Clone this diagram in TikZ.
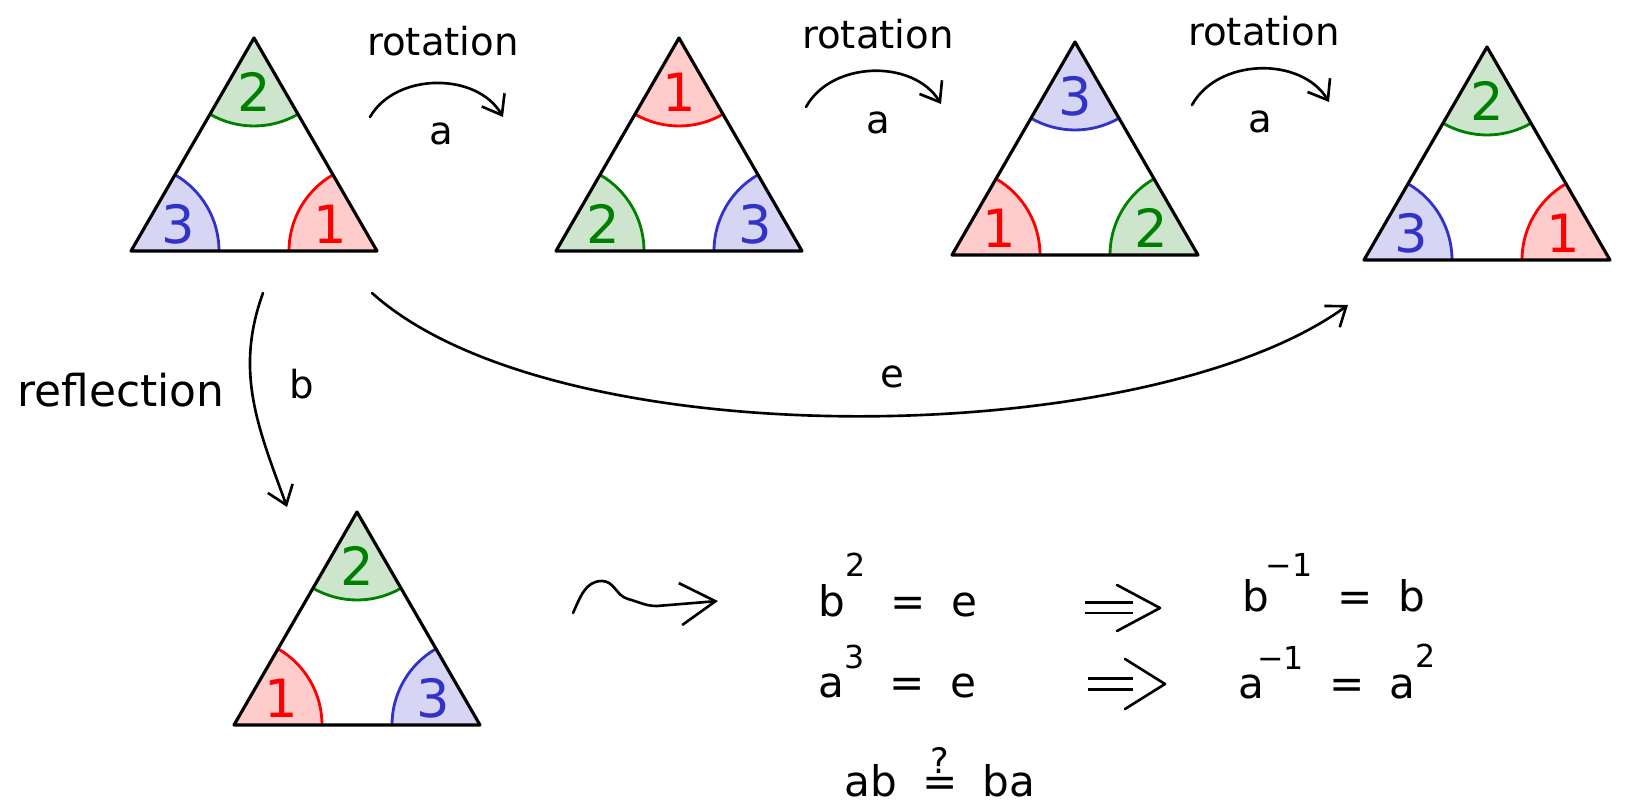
\documentclass[tikz,border=0pt]{standalone}
\usepackage{fontspec}
\setmainfont{DejaVu Sans}
\usetikzlibrary{arrows.meta}

\colorlet{col1}{red}
\definecolor{col2}{RGB}{0,128,0}
\definecolor{col3}{RGB}{50,50,200}

\newcommand{\sups}[2][16pt]{\raisebox{#1}{\fontsize{18}{18}\selectfont #2}}
\newcommand{\gap}{\hspace{.6em}}

\tikzset{
  pics/tri/.style n args = {3}{code = {
      \coordinate (-c) at (0,0);
      \foreach \n/\k/\dir in {#1/top/90, #2/left/210, #3/right/330} {
        \coordinate (-\k) at (\dir:142);
        \fill [col\n!20] (-\k) -- ++(\dir+150:88)
          arc [start angle = \dir+150, delta angle = 60, radius = 88] -- cycle;
        \draw [col\n, line width = 1.6pt] (-\k) ++(\dir+150:88)
          arc [start angle = \dir+150, delta angle = 60, radius = 88];
        \node [text = col\n, font = \fontsize{30}{30}\selectfont] (-n\k) at (\dir:88) {\n};
      }
      \draw [line width = 1.8pt, line join = round] (-top) -- (-left) -- (-right) -- cycle;
    }}
}

\begin{document}
\begin{tikzpicture}[x = 0.02cm, y = 0.02cm, line width = 1.5pt, line cap = round,
    > = {Straight Barb[length = 10pt, width = 15pt]},
    lbl/.style = {font = \fontsize{22}{26}\selectfont},
    eqn/.style = {font = \fontsize{24}{28}\selectfont, anchor = base west, inner sep = 0pt},
    dbl/.style = {double, double distance = 5pt, line width = 1.2pt, line cap = butt},
    bigtip/.style = {-{Straight Barb[length = 20pt, width = 24pt]}}]
  \useasboundingbox (0,0) rectangle (1630,805);

  % the triangles
  \pic (t1) at (254,625) {tri = {2}{3}{1}};
  \pic (t2) at (679,625) {tri = {1}{2}{3}};
  \pic (t3) at (1075,621) {tri = {3}{1}{2}};
  \pic (t4) at (1487,616) {tri = {2}{3}{1}};
  \pic (t5) at (357,151) {tri = {2}{1}{3}};

  % labels
  \node [lbl] (rot1) at (443,764) {rotation};
  \node [lbl] (rot2) at (878,771) {rotation};
  \node [lbl] (rot3) at (1264,774) {rotation};
  \node [lbl] (a1) at (441,671) {a};
  \node [lbl] (a2) at (878,682) {a};
  \node [lbl] (a3) at (1260,683) {a};
  \node [lbl, font = \fontsize{25}{28}\selectfont] (refl) at (121,415) {reflection};
  \node [lbl] (lb) at (302,421) {b};
  \node [lbl] (le) at (892,428) {e};

  \draw [->] ([shift = {(116,63)}]t1-c) to [bend left = 60] ([shift = {(-176,63)}]t2-c);
  \draw [->] ([shift = {(127,73)}]t2-c) to [bend left = 60] ([shift = {(-134,80)}]t3-c);
  \draw [->] ([shift = {(117,79)}]t3-c) to [bend left = 60] ([shift = {(-158,87)}]t4-c);
  \draw [->] ([shift = {(9,-113)}]t1-c) to [out = -110, in = 110] ([shift = {(-70,147)}]t5-c);
  \draw [->] ([shift = {(118,-113)}]t1-c)
    to [out = -42, in = 216, looseness = .65] ([shift = {(-139,-116)}]t4-c);

  % relations
  \node [eqn] (eq1l) at (817,188) {b\sups[23pt]{2}\gap=\gap e};
  \node [eqn] (eq1r) at (1241,193) {b\hspace{-2pt}\sups[20pt]{−1}\gap=\gap b};
  \node [eqn] (eq2l) at (817,108) {a\sups{3}\gap=\gap e};
  \node [eqn] (eq2r) at (1237,106) {a\hspace{-4pt}\sups[17pt]{−1}\gap=\gap a\sups[18pt]{2}};
  \node [eqn] (eq3) at (843,9)
    {ab\gap$\stackrel{\mbox{\fontsize{20}{20}\selectfont ?}}{\mbox{=}}$\gap ba};

  \draw [bigtip] ([shift = {(216,41)}]t5-c) to [out = 65, in = 180] ++(29,32)
    to [out = 0, in = 165] ++(26,-18) to [out = -15, in = 180] ++(29,-7)
    -- ([shift = {(-99,16)}]eq1l.base west);

  \draw [dbl] ([shift = {(268,9)}]eq1l.base west) -- ([shift = {(-108,4)}]eq1r.base west);
  \draw [line join = round] ([shift = {(-81,4)}]eq1r.base west) ++(-43,23) -- ++(43,-23) -- ++(-43,-23);
  \draw [dbl] ([shift = {(271,13)}]eq2l.base west) -- ([shift = {(-104,15)}]eq2r.base west);
  \draw [line join = round] ([shift = {(-72,15)}]eq2r.base west) ++(-40,25) -- ++(40,-25) -- ++(-40,-25);
\end{tikzpicture}
\end{document}
